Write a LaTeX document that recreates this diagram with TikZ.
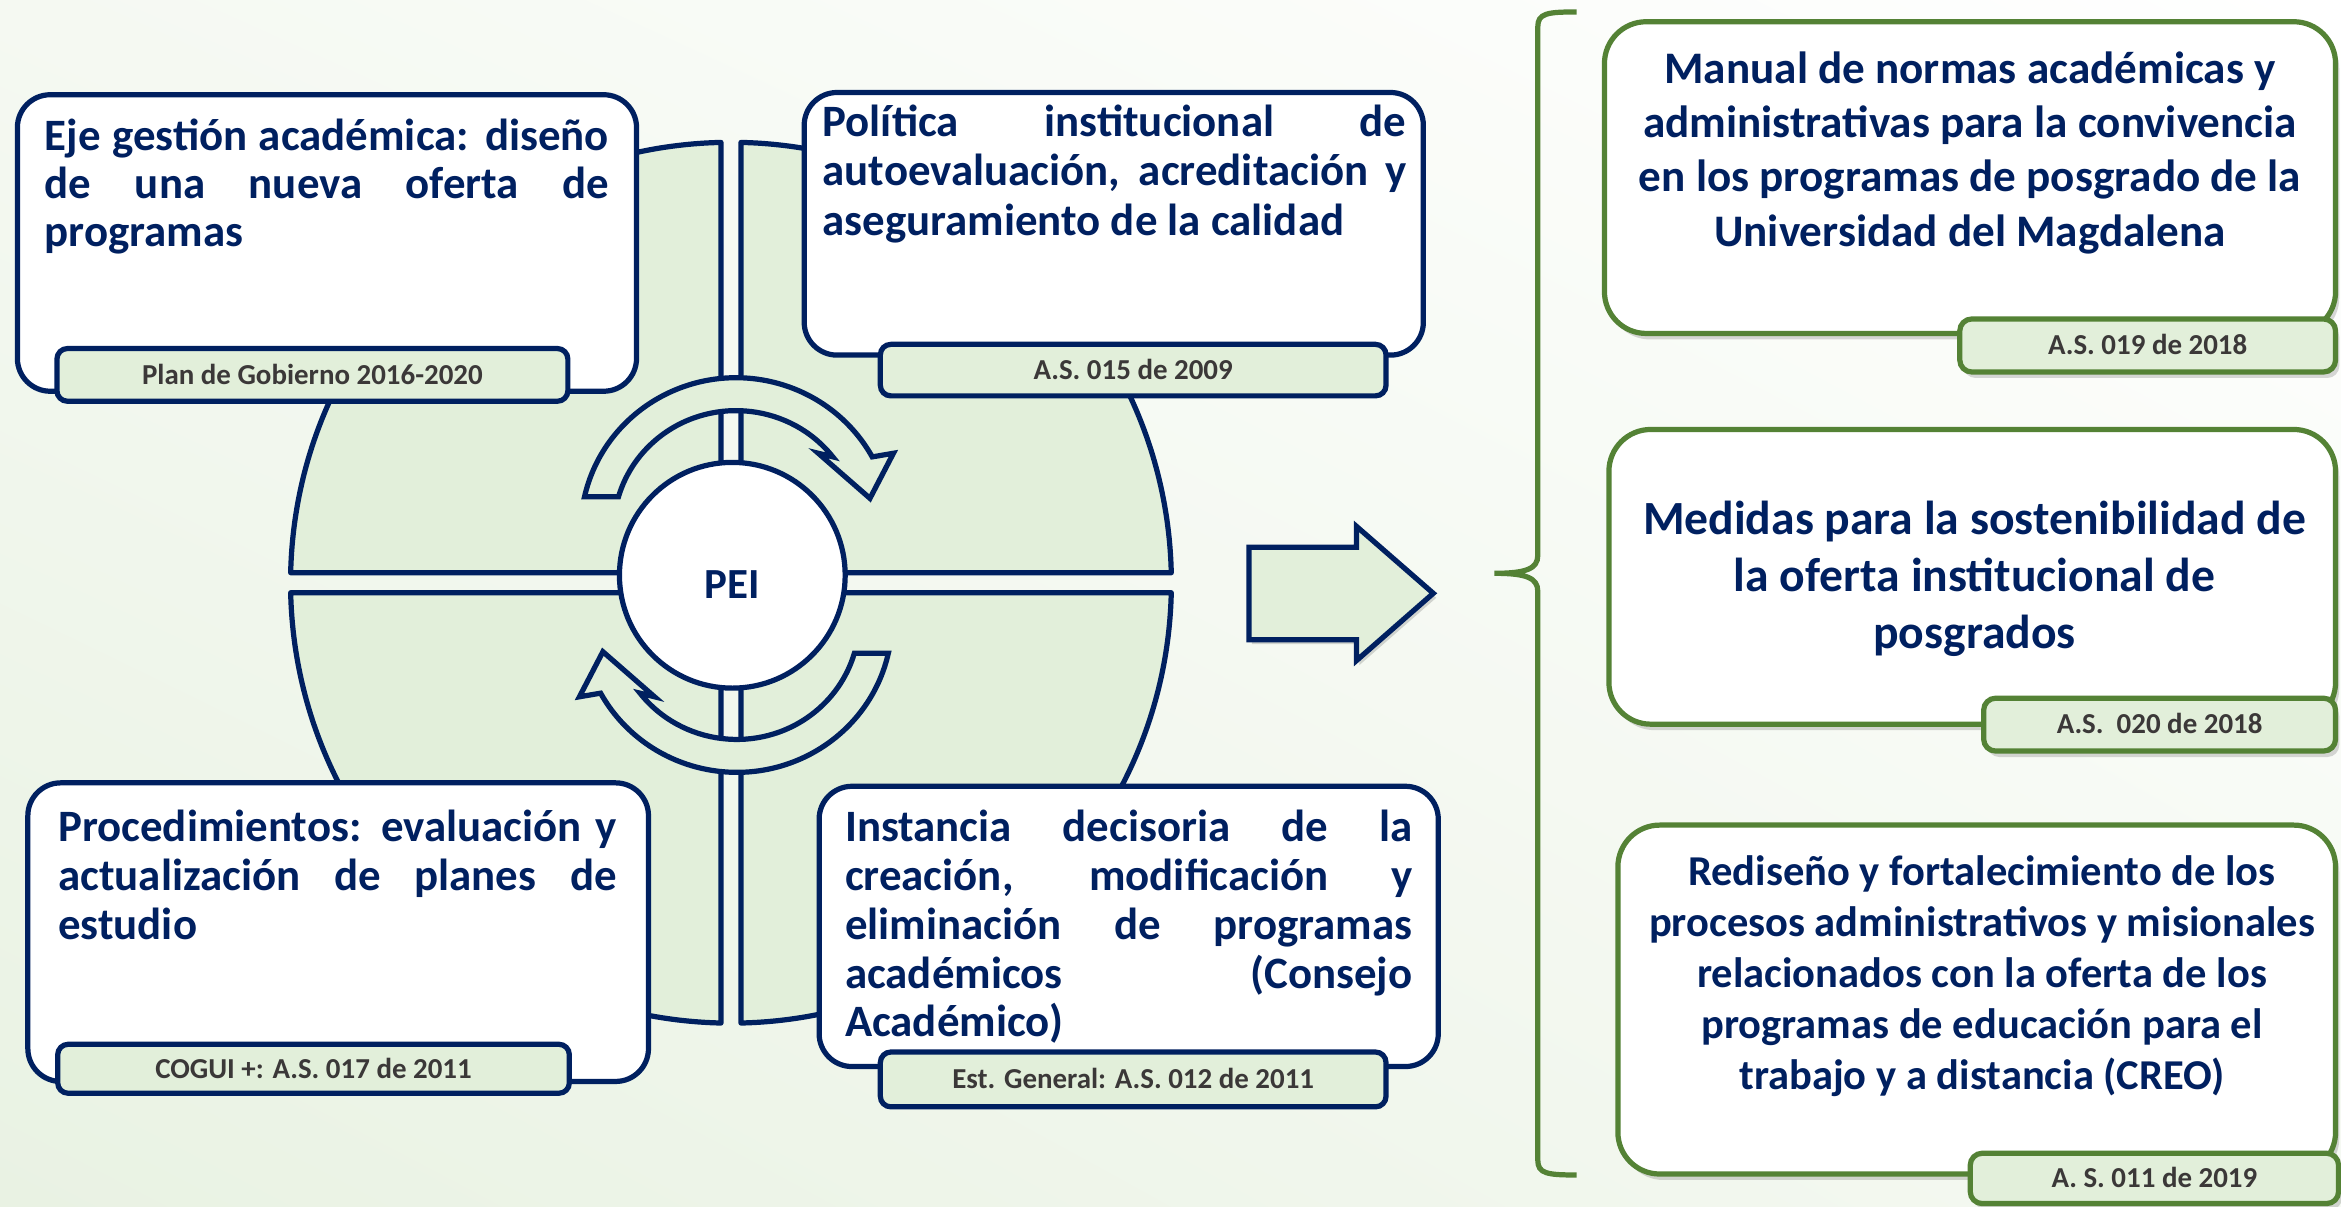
\documentclass[tikz,border=0pt]{standalone}
\usepackage{fontspec}
\setmainfont{Carlito}
\usetikzlibrary{shadows,shadings}
\definecolor{navy}{HTML}{002060}
\definecolor{gborder}{HTML}{548235}
\definecolor{lgreen}{HTML}{E2EFDA}
\definecolor{labtext}{HTML}{3B3838}
\definecolor{bgA}{HTML}{E9F2E3}
\definecolor{bgB}{HTML}{F5F9F2}
\newlength\mywd
\newcommand\calcfs[3]{\settowidth\mywd{\bfseries\fontsize{10}{12}\selectfont #2}\pgfmathsetmacro#1{10*#3/\mywd}}
\newcommand\jl[1]{\makebox[\linewidth][s]{#1}\\}
\begin{document}%
\calcfs\fsL{aseguramiento de la calidad}{349.3}%
\calcfs\fsRa{administrativas para la convivencia}{438}%
\calcfs\fsRb{Medidas para la sostenibilidad de}{444}%
\calcfs\fsRc{procesos administrativos y misionales}{446}%
\calcfs\fsLab{Est. General: A.S. 012 de 2011}{242.3}%
\calcfs\fsPEI{PEI}{37}%
\pgfmathsetmacro\lh{0.644*\fsLab}%
\def\labfont{\bfseries\fontsize{\fsLab}{\fsLab}\selectfont}%
\begin{tikzpicture}[x=1pt,y=-1pt,
  navybox/.style={draw=navy, line width=3.5pt, fill=white, rounded corners=22pt, inner sep=0pt, outer sep=0pt},
  navylabel/.style={draw=navy, line width=3.5pt, fill=lgreen, rounded corners=7pt, inner sep=0pt, outer sep=0pt, text=labtext, font=\labfont, text height=\lh pt, text depth=0pt},
  greenbox/.style={draw=gborder, line width=3.5pt, fill=white, rounded corners=28pt, inner sep=0pt, outer sep=0pt, drop shadow={shadow xshift=2.5pt, shadow yshift=-4pt, opacity=0.22, fill=black!70}},
  greenlabel/.style={draw=gborder, line width=3.5pt, fill=lgreen, rounded corners=8pt, inner sep=0pt, outer sep=0pt, text=labtext, font=\labfont, text height=\lh pt, text depth=0pt, drop shadow={shadow xshift=2.5pt, shadow yshift=-4pt, opacity=0.22, fill=black!70}},
  disk/.style={draw=navy, line width=3.5pt, fill=lgreen, line join=round},
  cyc/.style={draw=navy, line width=3.5pt, fill=lgreen, line join=miter},
  maintext/.style={inner sep=0pt, outer sep=0pt, text=navy, font=\bfseries}
]
\useasboundingbox (0,0) rectangle (1568,808);
\shade[upper left=bgB, lower left=bgA, upper right=white, lower right=bgB] (0,0) rectangle (1568,808);

% quadrants of the disk
\filldraw[disk] (482.9,383.6) -- ([shift={(489.6,390.3)}]268.7:295) arc[start angle=268.7, end angle=181.3, radius=295] -- cycle;
\filldraw[disk] (496.3,383.6) -- ([shift={(489.6,390.3)}]271.3:295) arc[start angle=271.3, end angle=358.7, radius=295] -- cycle;
\filldraw[disk] (496.3,397.0) -- ([shift={(489.6,390.3)}]1.3:295) arc[start angle=1.3, end angle=88.7, radius=295] -- cycle;
\filldraw[disk] (482.9,397.0) -- ([shift={(489.6,390.3)}]91.3:295) arc[start angle=91.3, end angle=178.7, radius=295] -- cycle;

% circular arrows
\filldraw[cyc] (391.5,332.75) arc[start angle=192.6, end angle=331.3, x radius=104, y radius=102] -- (598.4,303.6) -- (582.7,333.8) -- (548.1,303.6) -- (557.8,306.0) arc[start angle=322.2, end angle=196.2, x radius=82, y radius=80] -- cycle;
\begin{scope}[rotate around={180:(493.25,385.15)}]
\filldraw[cyc] (391.5,332.75) arc[start angle=192.6, end angle=331.3, x radius=104, y radius=102] -- (598.4,303.6) -- (582.7,333.8) -- (548.1,303.6) -- (557.8,306.0) arc[start angle=322.2, end angle=196.2, x radius=82, y radius=80] -- cycle;
\end{scope}

% centre
\node[circle, draw=navy, line width=3.5pt, fill=white, minimum size=151.2pt, inner sep=0pt, text=navy, text height=31pt, text depth=0pt, font={\bfseries\fontsize{\fsPEI}{\fsPEI}\selectfont}] (pei) at (490.5,385.3) {PEI};

% left boxes
\node[navybox, minimum width=414.7pt, minimum height=198.6pt] (b1) at (219,162.75) {};
\node[navybox, minimum width=414.7pt, minimum height=175.9pt] (b2) at (746,149.9) {};
\node[navybox, minimum width=415.7pt, minimum height=200pt] (b3) at (226.5,624.35) {};
\node[navybox, minimum width=414.7pt, minimum height=187.7pt] (b4) at (756,620.5) {};

\node[navylabel, minimum width=342.2pt, minimum height=35.3pt] (l1) at (209.25,251.1) {Plan de Gobierno 2016-2020};
\node[navylabel, minimum width=338.7pt, minimum height=34.5pt] (l2) at (759,247.9) {A.S. 015 de 2009};
\node[navylabel, minimum width=342.7pt, minimum height=32.8pt] (l3) at (210,715.85) {COGUI +: A.S. 017 de 2011};
\node[navylabel, minimum width=338.7pt, minimum height=36.7pt] (l4) at (759,723) {Est. General: A.S. 012 de 2011};

\node[maintext, anchor=base west] (t1) at (30,100.5) {\parbox[t]{378pt}{\fontsize{\fsL}{32.4}\selectfont\jl{Eje gestión académica: diseño}\jl{de una nueva oferta de}programas}};
\node[maintext, anchor=base west] (t2) at (551,91.5) {\parbox[t]{391pt}{\fontsize{\fsL}{33}\selectfont\jl{Política institucional de}\jl{autoevaluación, acreditación y}aseguramiento de la calidad}};
\node[maintext, anchor=base west] (t3) at (39,563.7) {\parbox[t]{374pt}{\fontsize{\fsL}{32.7}\selectfont\jl{Procedimientos: evaluación y}\jl{actualización de planes de}estudio}};
\node[maintext, anchor=base west] (t4) at (566,563.7) {\parbox[t]{380pt}{\fontsize{\fsL}{32.7}\selectfont\jl{Instancia decisoria de la}\jl{creación, modificación y}\jl{eliminación de programas}\jl{académicos (Consejo}Académico)}};

% block arrow
\filldraw[draw=navy, line width=3.5pt, fill=lgreen, line join=miter, drop shadow={shadow xshift=2pt, shadow yshift=-3pt, opacity=0.22, fill=black!70}] (836.5,366.5) -- (908.5,366.5) -- (908.5,352.5) -- (960,397.4) -- (908.5,442.5) -- (908.5,428.5) -- (836.5,428.5) -- cycle;

% brace
\draw[gborder, line width=3.5pt] (1056,8) .. controls (1036,8) and (1030,9) .. (1030,18) -- (1030,372) .. controls (1030,381) and (1022,384) .. (1001,384) .. controls (1022,384) and (1030,387) .. (1030,396) -- (1030,777) .. controls (1030,786) and (1036,787) .. (1056,787);

% right boxes
\node[greenbox, minimum width=489.7pt, minimum height=208.8pt] (r1) at (1319.5,118.95) {};
\node[greenlabel, minimum width=251.7pt, minimum height=35.5pt] (rl1) at (1438.5,231.4) {A.S. 019 de 2018};
\node[greenbox, minimum width=486.7pt, minimum height=197.4pt] (r2) at (1321,386.35) {};
\node[greenlabel, minimum width=235.7pt, minimum height=35.4pt] (rl2) at (1446.5,485.35) {A.S.~~020 de 2018};
\node[greenbox, minimum width=480.7pt, minimum height=233.7pt] (r3) at (1324,669.5) {};
\node[greenlabel, minimum width=246.7pt, minimum height=33.7pt] (rl3) at (1443,789.3) {A. S. 011 de 2019};

\node[maintext, anchor=base] (rt1) at (1319.5,55.8) {\parbox[t]{480pt}{\centering\fontsize{\fsRa}{36.4}\selectfont Manual de normas académicas y\\administrativas para la convivencia\\en los programas de posgrado de la\\Universidad del Magdalena}};
\node[maintext, anchor=base] (rt2) at (1322.5,358.3) {\parbox[t]{480pt}{\centering\fontsize{\fsRb}{38}\selectfont Medidas para la sostenibilidad de\\la oferta institucional de\\posgrados}};
\node[maintext, anchor=base] (rt3) at (1327.5,592.8) {\parbox[t]{480pt}{\centering\fontsize{\fsRc}{34.2}\selectfont Rediseño y fortalecimiento de los\\procesos administrativos y misionales\\relacionados con la oferta de los\\programas de educación para el\\trabajo y a distancia (CREO)}};
\end{tikzpicture}%
\end{document}
